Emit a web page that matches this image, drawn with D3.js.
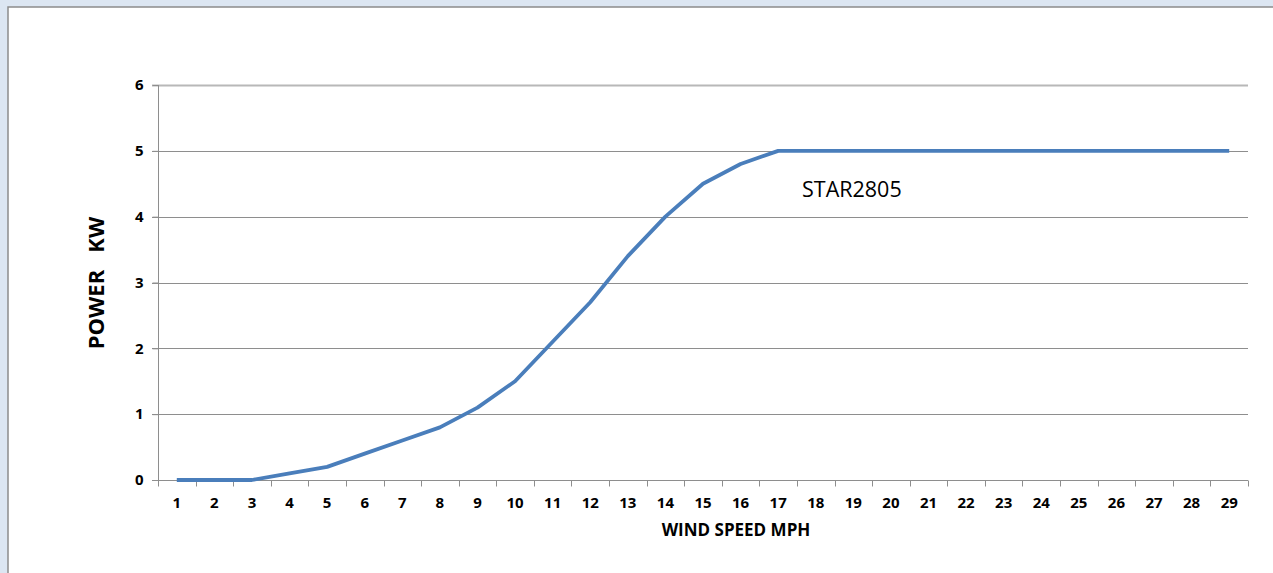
<!DOCTYPE html>
<html><head><meta charset="utf-8">
<script src="https://cdn.jsdelivr.net/npm/d3@7"></script>
<style>
html,body{margin:0;padding:0;background:#dce6f2;}
svg{display:block;}
text{font-family:"Open Sans","Liberation Sans",sans-serif;}
</style></head><body>
<script>
const windSpeeds = [1,2,3,4,5,6,7,8,9,10,11,12,13,14,15,16,17,18,19,20,21,22,23,24,25,26,27,28,29];
const powerKW = [0,0,0,0.1,0.2,0.4,0.6,0.8,1.1,1.5,2.1,2.7,3.4,4.0,4.5,4.8,5,5,5,5,5,5,5,5,5,5,5,5,5];
const yTicks = [0,1,2,3,4,5,6];
const seriesName = "STAR2805";
const xTitle = "WIND SPEED MPH";
const yTitle = "POWER   KW";

(function(){
const W = 1273, H = 573;
const svg = d3.select("body").append("svg").attr("width", W).attr("height", H);

// frame
svg.append("rect").attr("x", 8).attr("y", 7).attr("width", W).attr("height", H)
  .attr("fill", "#ffffff").attr("stroke", "#8c8c8c").attr("stroke-width", 1.5);

const pLeft = 158, pRight = 1248, pTop = 85, pBottom = 480;
const x = d3.scaleBand().domain(windSpeeds).range([pLeft, pRight]).padding(0);
const y = d3.scaleLinear().domain([0, 6]).range([pBottom, pTop]);

// gridlines
svg.append("g").selectAll("line").data(yTicks.filter(d => d > 0)).join("line")
  .attr("x1", pLeft - 6).attr("x2", pRight)
  .attr("y1", d => Math.round(y(d)) + 0.5).attr("y2", d => Math.round(y(d)) + 0.5)
  .attr("stroke", d => d === 6 ? "#b8b8b8" : "#8e8e8e").attr("stroke-width", d => d === 6 ? 2 : 1);

// y axis
const yAxis = d3.axisLeft(y).tickValues(yTicks).tickFormat(d3.format("d")).tickSize(6).tickPadding(9);
const gy = svg.append("g").attr("transform", `translate(${pLeft + 0.5},0)`).call(yAxis);
gy.select(".domain").attr("stroke", "#8e8e8e").attr("d", `M0,${pTop}V${pBottom}`);
gy.selectAll(".tick line").attr("stroke", "#8e8e8e");
gy.selectAll(".tick text").attr("font-size", 15).attr("font-weight", "bold").attr("fill", "#000")
  .attr("font-family", "'Open Sans', sans-serif");

// x axis
const xAxis = d3.axisBottom(x).tickSize(0).tickPadding(17);
const gx = svg.append("g").attr("transform", `translate(0,${Math.round(pBottom) + 0.5})`).call(xAxis);
gx.select(".domain").attr("stroke", "#8e8e8e").attr("d", `M${pLeft - 6},0H${pRight}`);
gx.selectAll(".tick text").attr("font-size", 15).attr("font-weight", "bold").attr("fill", "#000")
  .attr("font-family", "'Open Sans', sans-serif");
// boundary tick marks
gx.append("g").selectAll("line").data(windSpeeds.concat([null])).join("line")
  .attr("x1", (d, i) => Math.round(pLeft + i * x.bandwidth()) + 0.5)
  .attr("x2", (d, i) => Math.round(pLeft + i * x.bandwidth()) + 0.5)
  .attr("y1", 0).attr("y2", 6).attr("stroke", "#8e8e8e");

// line
const line = d3.line().x((d, i) => x(windSpeeds[i]) + x.bandwidth() / 2).y(d => y(d));
svg.append("path").datum(powerKW).attr("d", line).attr("fill", "none")
  .attr("stroke", "#4a7ebb").attr("stroke-width", 3.8).attr("stroke-linejoin", "round");

// labels
svg.append("text").attr("x", 802).attr("y", 197).attr("font-size", 21.5).attr("fill", "#000")
  .text(seriesName);
svg.append("text").attr("x", 736).attr("y", 536).attr("text-anchor", "middle")
  .attr("font-size", 17).attr("font-weight", "bold").attr("fill", "#000").text(xTitle);
svg.append("text").attr("transform", "translate(104,283) rotate(-90)").attr("text-anchor", "middle")
  .attr("xml:space", "preserve")
  .attr("font-size", 22).attr("font-weight", "bold").attr("fill", "#000")
  .style("white-space", "pre").text(yTitle);
})();
</script>
</body></html>
